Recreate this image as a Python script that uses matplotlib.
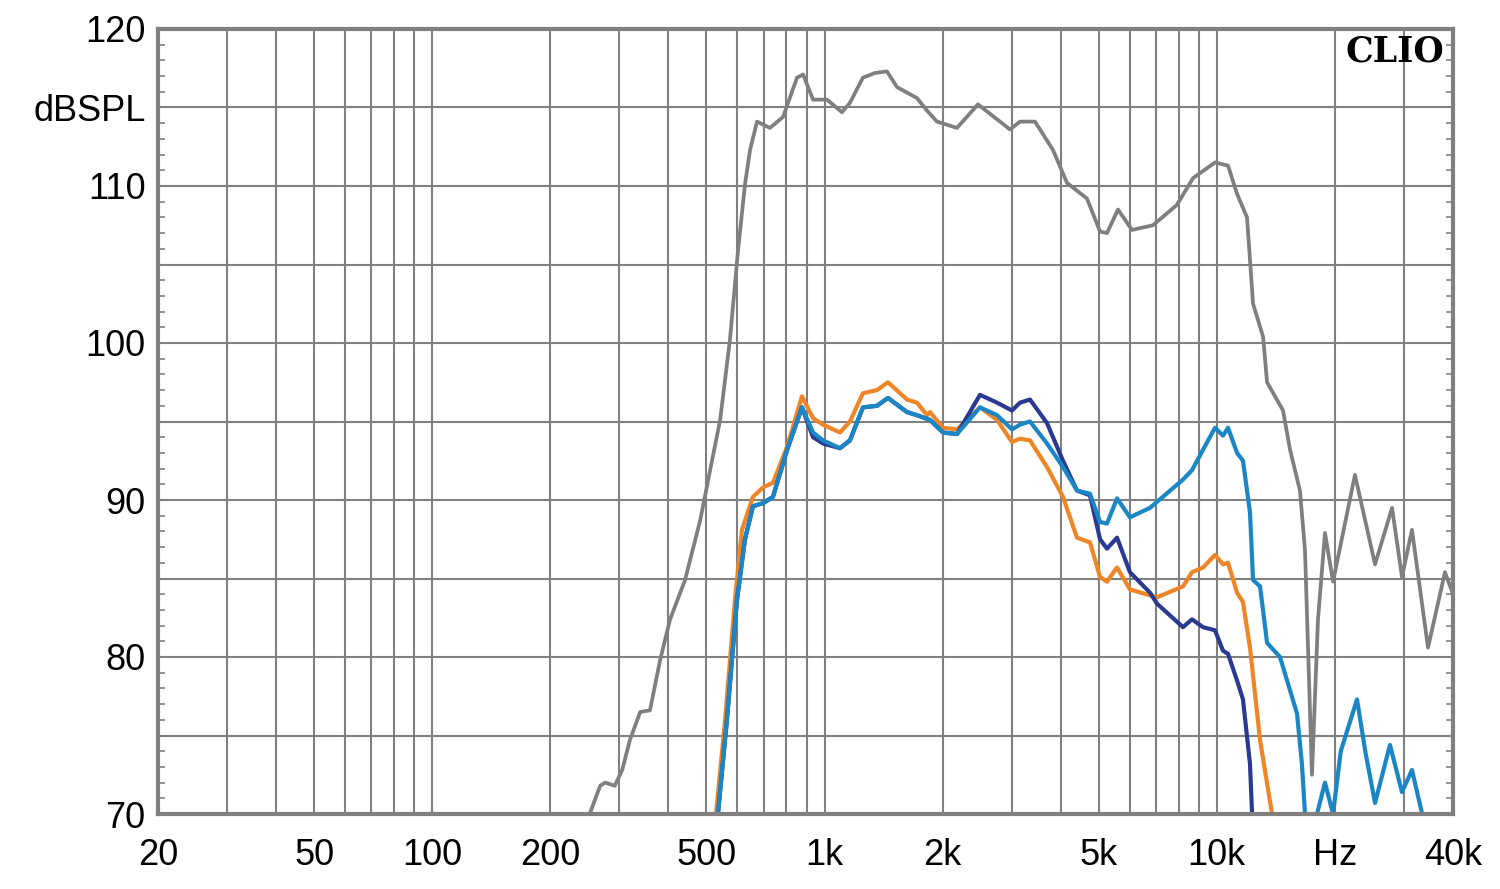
import numpy as np
import matplotlib
matplotlib.use("Agg")
import matplotlib.pyplot as plt
from matplotlib.ticker import FixedLocator, MultipleLocator

# Frequenzgang (dBSPL ueber Hz)
freq_grau = [252, 268, 276, 292, 305, 319, 339, 359, 381, 404, 441, 482, 511, 542, 574,
             602, 627, 646, 673, 726, 784, 851, 882, 935, 1015, 1108, 1161, 1253, 1345,
             1443, 1530, 1721, 1825, 1935, 2176, 2462, 2970, 3150, 3440, 3822, 4150, 4668,
             5038, 5248, 5600, 6078, 6875, 7914, 8696, 9894, 10680, 11260, 11940, 12370,
             13120, 13430, 14750, 15370, 16290, 16780, 17480, 18110, 18870, 19780, 22500,
             25310, 27970, 29650, 31440, 34540, 38160, 40000]
pegel_grau = [70.0, 71.8, 72.0, 71.8, 72.8, 74.7, 76.5, 76.6, 79.8, 82.4, 84.9, 88.7, 91.9,
              95.1, 100.2, 105.9, 110.1, 112.3, 114.1, 113.7, 114.4, 116.9, 117.1, 115.5,
              115.5, 114.7, 115.3, 116.9, 117.2, 117.3, 116.3, 115.6, 114.8, 114.1, 113.7,
              115.2, 113.6, 114.1, 114.1, 112.3, 110.2, 109.2, 107.1, 107.0, 108.5, 107.2,
              107.5, 108.8, 110.5, 111.5, 111.3, 109.5, 108.0, 102.5, 100.4, 97.5, 95.7,
              93.2, 90.6, 86.8, 72.5, 82.4, 87.9, 84.8, 91.6, 85.9, 89.5, 85.1, 88.1, 80.6,
              85.4, 84.0]

freq_orange = [529, 558, 591, 616, 657, 697, 739, 803, 876, 935, 991, 1095, 1161, 1253,
               1361, 1451, 1623, 1721, 1825, 1857, 2005, 2176, 2491, 2753, 3005, 3150, 3340,
               3691, 4054, 4401, 4750, 5038, 5248, 5567, 6006, 7039, 8200, 8644, 9222, 9894,
               10370, 10680, 11260, 11660, 12150, 12890, 13830]
pegel_orange = [70.0, 76.0, 83.6, 88.1, 90.2, 90.8, 91.1, 93.4, 96.6, 95.2, 94.8, 94.3, 95.0,
                96.8, 97.0, 97.5, 96.4, 96.2, 95.4, 95.6, 94.6, 94.5, 95.9, 95.1, 93.7, 93.9,
                93.8, 92.1, 90.2, 87.6, 87.3, 85.1, 84.8, 85.7, 84.3, 83.8, 84.5, 85.4, 85.7,
                86.5, 85.9, 86.0, 84.1, 83.5, 80.6, 74.7, 70.0]

freq_dunkelblau = [535, 564, 598, 627, 657, 697, 739, 803, 876, 935, 991, 1095, 1161, 1253,
                   1361, 1451, 1623, 1721, 1857, 2005, 2176, 2491, 2753, 3005, 3150, 3340,
                   3691, 4054, 4401, 4750, 5038, 5248, 5567, 6006, 6756, 7039, 8200, 8644,
                   9222, 9894, 10370, 10680, 11260, 11660, 12150, 12300]
pegel_dunkelblau = [70.0, 76.0, 83.6, 87.5, 89.6, 89.8, 90.2, 93.2, 95.9, 94.0, 93.6, 93.3,
                    93.8, 95.9, 96.0, 96.5, 95.6, 95.4, 95.1, 94.3, 94.2, 96.7, 96.2, 95.7,
                    96.2, 96.4, 94.9, 92.5, 90.6, 90.3, 87.5, 86.9, 87.6, 85.4, 84.1, 83.4,
                    81.9, 82.4, 81.9, 81.7, 80.4, 80.2, 78.5, 77.3, 73.2, 70.0]

freq_hellblau = [535, 564, 598, 627, 657, 697, 739, 803, 876, 935, 991, 1095, 1161, 1253,
                 1361, 1451, 1623, 1721, 1857, 2005, 2176, 2491, 2753, 3005, 3150, 3340, 3691,
                 4054, 4401, 4750, 5038, 5248, 5567, 6006, 6756, 8200, 8644, 9222, 9894, 10370,
                 10680, 11260, 11660, 12150, 12370, 12890, 13430, 14490, 16010, 16480, 16780,
                 17300, 18000, 18870, 19780, 20700, 22770, 23900, 25310, 27630, 29650, 31440,
                 33380]
pegel_hellblau = [70.0, 76.0, 83.6, 87.5, 89.6, 89.8, 90.2, 93.2, 95.9, 94.3, 93.8, 93.3,
                  93.8, 95.9, 96.0, 96.5, 95.6, 95.4, 95.1, 94.3, 94.2, 95.9, 95.4, 94.5, 94.8,
                  95.0, 93.6, 92.1, 90.6, 90.4, 88.6, 88.5, 90.1, 88.9, 89.5, 91.3, 91.9, 93.2,
                  94.6, 94.1, 94.6, 93.0, 92.5, 89.2, 84.9, 84.5, 80.9, 80.0, 76.4, 73.2, 70.0,
                  67.0, 70.0, 72.0, 70.0, 74.0, 77.3, 74.0, 70.7, 74.4, 71.4, 72.8, 70.0]

x_ticks = [20, 50, 100, 200, 500, 1000, 2000, 5000, 10000, 20000, 40000]
x_labels = ["20", "50", "100", "200", "500", "1k", "2k", "5k", "10k", "Hz", "40k"]
y_ticks = [70, 75, 80, 85, 90, 95, 100, 105, 110, 115, 120]
y_labels = ["70", "", "80", "", "90", "", "100", "", "110", "dBSPL", "120"]

plt.rcParams['font.family'] = ['Liberation Sans', 'DejaVu Sans']

fig = plt.figure(figsize=(15, 8.89), dpi=100)
ax = fig.add_axes([158 / 1500, 75 / 889, 1295 / 1500, 785 / 889])

grau = "#808080"
ax.plot(freq_grau, pegel_grau, color="#7f7f7f", lw=2.7, zorder=3)
ax.plot(freq_orange, pegel_orange, color="#ee8527", lw=3.0, zorder=4)
ax.plot(freq_dunkelblau, pegel_dunkelblau, color="#2a3a92", lw=3.0, zorder=5)
ax.plot(freq_hellblau, pegel_hellblau, color="#1b86c6", lw=3.0, zorder=6)

ax.set_xscale("log")
ax.set_xlim(20, 40000)
ax.set_ylim(70, 120)

# Gitter: alle 1-2-..-9 Stufen
minor_x = []
for dek in [10, 100, 1000, 10000]:
    for m in range(1, 10):
        f = m * dek
        if 20 <= f <= 40000 and f not in x_ticks:
            minor_x.append(f)
ax.xaxis.set_major_locator(FixedLocator(x_ticks))
ax.xaxis.set_minor_locator(FixedLocator(minor_x))
ax.set_xticklabels(x_labels)
ax.xaxis.set_minor_formatter(plt.NullFormatter())
ax.set_yticks(y_ticks)
ax.set_yticklabels(y_labels)
ax.yaxis.set_minor_locator(MultipleLocator(1))

ax.grid(True, which="major", color=grau, lw=1.5, zorder=1)
ax.grid(True, which="minor", axis="x", color=grau, lw=1.5, zorder=1)

ax.tick_params(axis="x", which="both", length=0, pad=17, labelsize=26)
ax.tick_params(axis="y", which="major", length=0, pad=9, labelsize=26)
ax.tick_params(axis="y", which="minor", direction="in", length=5, width=1.2,
               color=grau, left=True, right=True)

for s in ax.spines.values():
    s.set_color(grau)
    s.set_linewidth(3)
    s.set_zorder(7)

ax.text(0.993, 0.993, "CLIO", transform=ax.transAxes, ha="right", va="top",
        fontsize=25, fontweight="bold", family="DejaVu Serif", zorder=8)

fig.savefig("out.png", dpi=100)
